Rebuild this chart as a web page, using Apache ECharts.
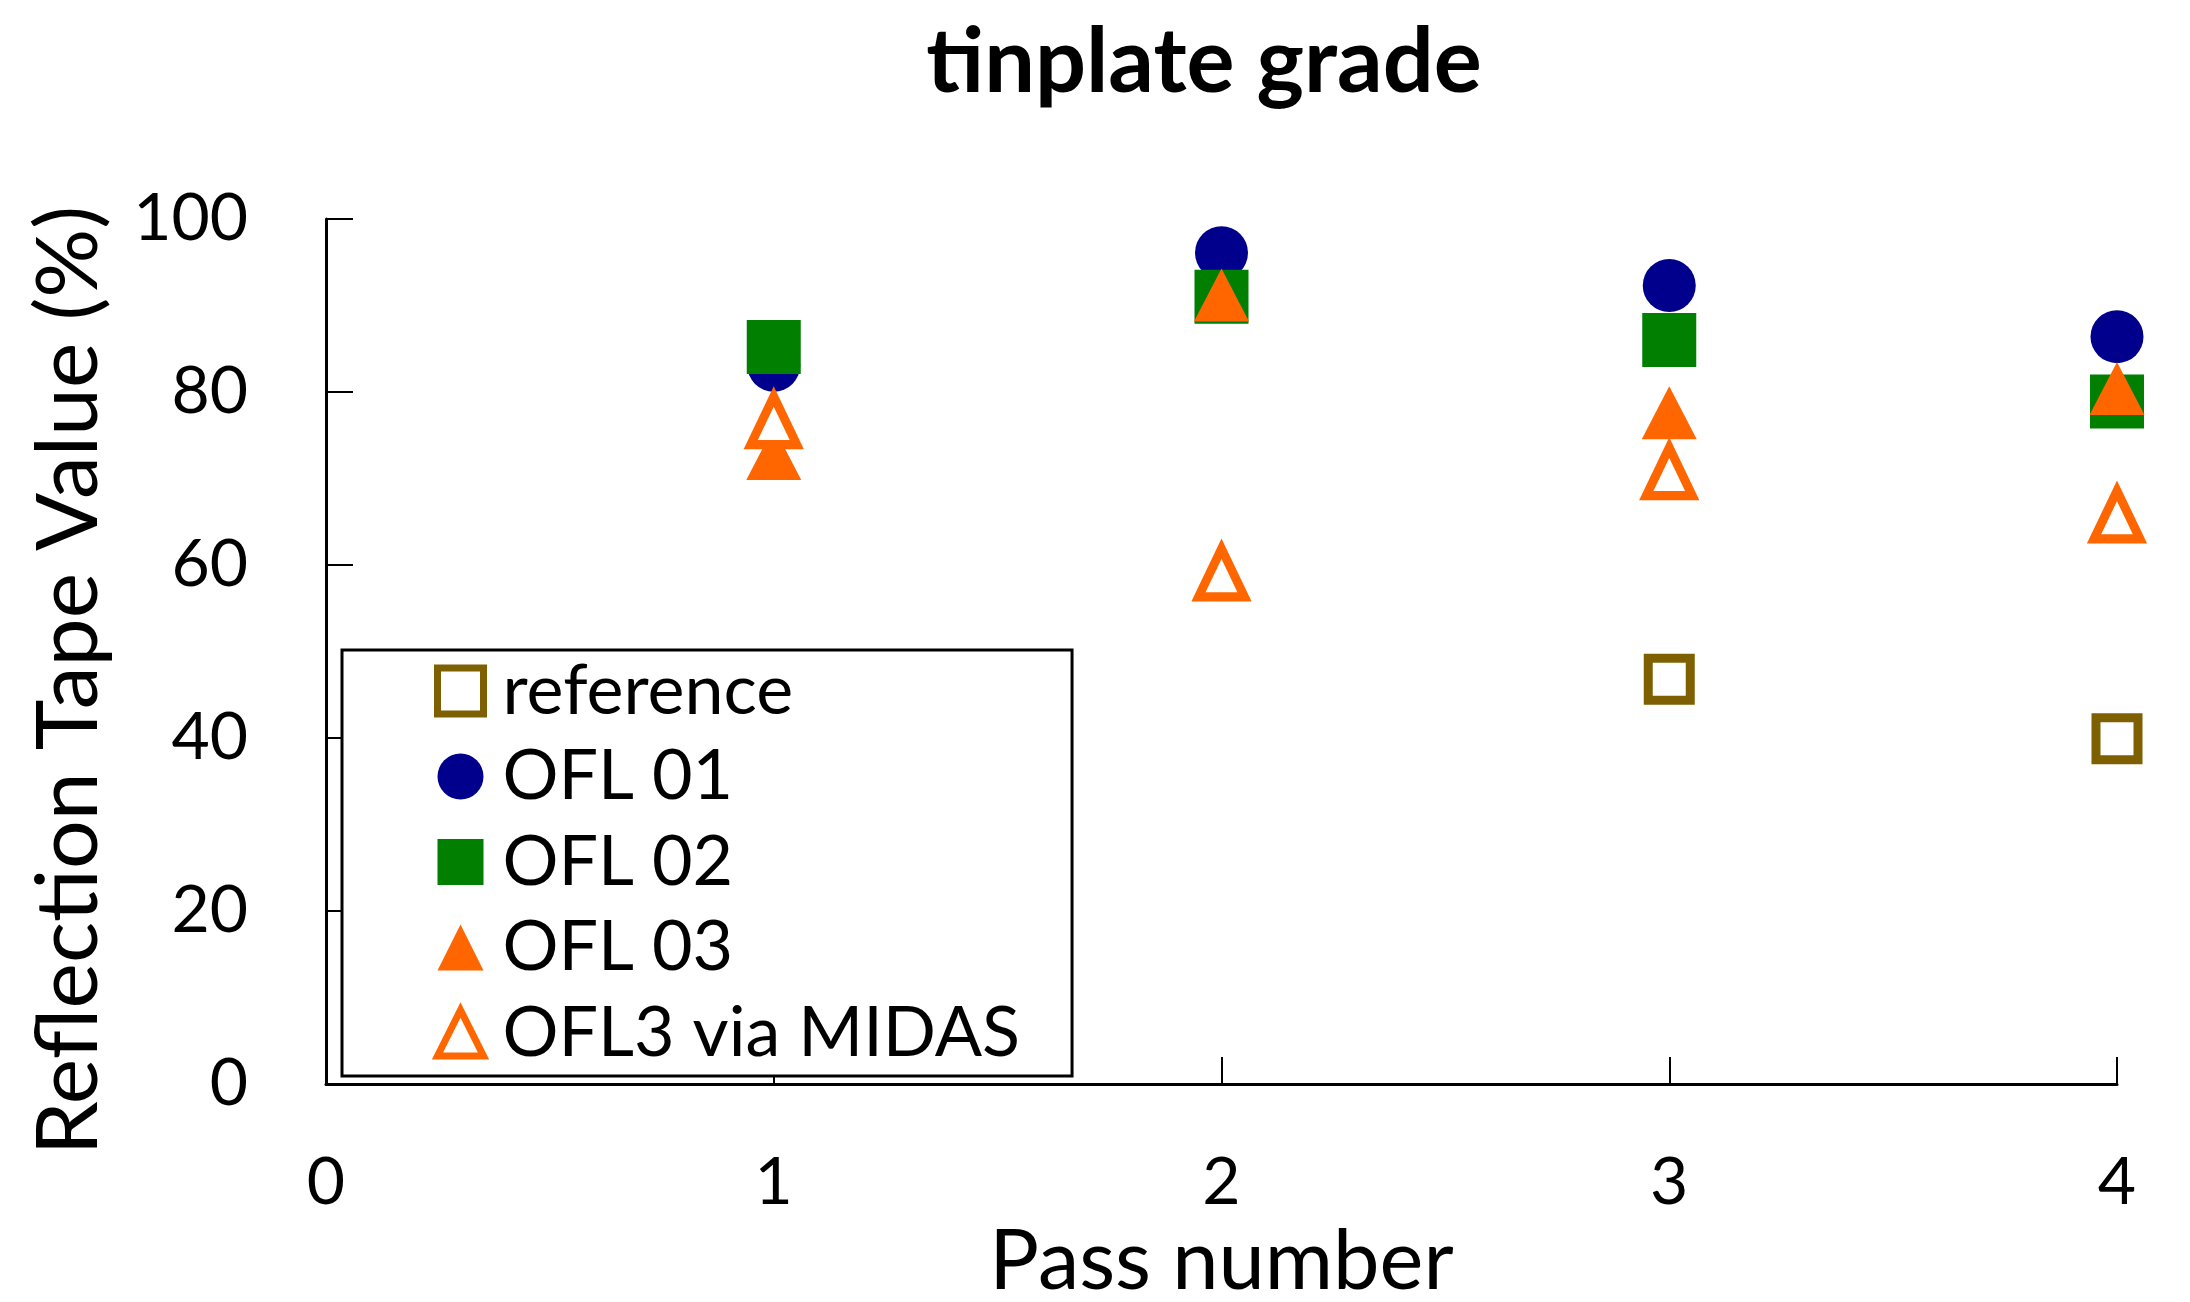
<!DOCTYPE html>
<html>
<head>
<meta charset="utf-8">
<script src="https://cdn.jsdelivr.net/npm/echarts@6/dist/echarts.min.js"></script>
<style>
html,body{margin:0;padding:0;background:#fff;}
#chart{width:2190px;height:1302px;}
</style>
</head>
<body>
<div id="chart"></div>
<script>
const passNumbers = [1, 2, 3, 4];
const referenceX = [3, 4];
const referenceVals = [46.8, 39.9];
const ofl01 = [83.1, 96.1, 92.3, 86.4];
const ofl02 = [85.2, 91.0, 86.0, 78.9];
const ofl03 = [72.9, 91.2, 77.6, 80.4];
const ofl3Midas = [76.7, 59.1, 70.8, 65.8];
const seriesNames = ['reference', 'OFL 01', 'OFL 02', 'OFL 03', 'OFL3 via MIDAS'];
const xTicks = [0, 1, 2, 3, 4];
const yTicks = [0, 20, 40, 60, 80, 100];

const FONT = 'Lato';
function pairs(xs, ys) { return xs.map((x, i) => [x, ys[i]]); }

const BROWN = '#7F6000', NAVY = '#00008C', GREEN = '#007F00', ORANGE = '#FF6600';
const HOLLOW_W = 9;

const chart = echarts.init(document.getElementById('chart'));
chart.setOption({
  backgroundColor: '#fff',
  animation: false,
  title: {
    text: 'tinplate grade',
    left: 1199,
    textAlign: 'center',
    top: 13,
    textStyle: { fontFamily: FONT, fontWeight: 'bold', fontSize: 90, color: '#000' }
  },
  grid: { left: 326, top: 219, right: 73, bottom: 218, containLabel: false, outerBoundsMode: 'none' },
  xAxis: {
    type: 'value',
    min: xTicks[0], max: xTicks[xTicks.length - 1], interval: 1,
    name: 'Pass number',
    nameLocation: 'middle',
    nameGap: 106,
    nameTextStyle: { fontFamily: FONT, fontSize: 83, color: '#000' },
    axisLine: { lineStyle: { color: '#000', width: 3 } },
    axisTick: { inside: true, length: 27, lineStyle: { color: '#000', width: 2 } },
    axisLabel: { fontFamily: FONT, fontSize: 66, color: '#000', margin: 66 },
    splitLine: { show: false }
  },
  yAxis: {
    type: 'value',
    min: yTicks[0], max: yTicks[yTicks.length - 1], interval: 20,
    name: 'Reflection Tape Value (%)',
    nameLocation: 'middle',
    nameGap: 214,
    nameTextStyle: { fontFamily: FONT, fontSize: 86, color: '#000', padding: [0, 58, 0, 0] },
    axisLine: { lineStyle: { color: '#000', width: 3 } },
    axisTick: { inside: true, length: 27, lineStyle: { color: '#000', width: 2 } },
    axisLabel: { fontFamily: FONT, fontSize: 66, color: '#000', margin: 78 },
    splitLine: { show: false }
  },
  legend: {
    orient: 'vertical',
    left: 342,
    top: 650,
    data: [
      { name: seriesNames[0], itemStyle: { borderWidth: 7, borderColor: BROWN, color: '#fff' } },
      { name: seriesNames[1] },
      { name: seriesNames[2] },
      { name: seriesNames[3] },
      { name: seriesNames[4], itemStyle: { borderWidth: 7, borderColor: ORANGE, color: '#fff' } }
    ],
    padding: [6, 52, 8, 92],
    itemGap: 15.5,
    itemWidth: 46,
    itemHeight: 46,
    itemTextGap: 22,
    borderColor: '#000',
    borderWidth: 3,
    borderRadius: 0,
    backgroundColor: '#fff',
    textStyle: { fontFamily: FONT, fontSize: 70, color: '#000', padding: [0, 0, 0, 14] }
  },
  series: [
    {
      name: seriesNames[0], type: 'scatter', symbol: 'rect', symbolSize: 42,
      itemStyle: { color: '#fff', borderColor: BROWN, borderWidth: HOLLOW_W, opacity: 1 },
      data: pairs(referenceX, referenceVals)
    },
    {
      name: seriesNames[1], type: 'scatter', symbol: 'circle', symbolSize: 53,
      itemStyle: { color: NAVY, opacity: 1 },
      data: pairs(passNumbers, ofl01)
    },
    {
      name: seriesNames[2], type: 'scatter', symbol: 'rect', symbolSize: 54,
      itemStyle: { color: GREEN, opacity: 1 },
      data: pairs(passNumbers, ofl02)
    },
    {
      name: seriesNames[3], type: 'scatter', symbol: 'triangle', symbolSize: [55, 53],
      itemStyle: { color: ORANGE, opacity: 1 },
      data: pairs(passNumbers, ofl03)
    },
    {
      name: seriesNames[4], type: 'scatter', symbol: 'triangle', symbolSize: [46, 48],
      itemStyle: { color: '#fff', borderColor: ORANGE, borderWidth: HOLLOW_W, opacity: 1 },
      data: pairs(passNumbers, ofl3Midas)
    }
  ]
});
</script>
</body>
</html>
